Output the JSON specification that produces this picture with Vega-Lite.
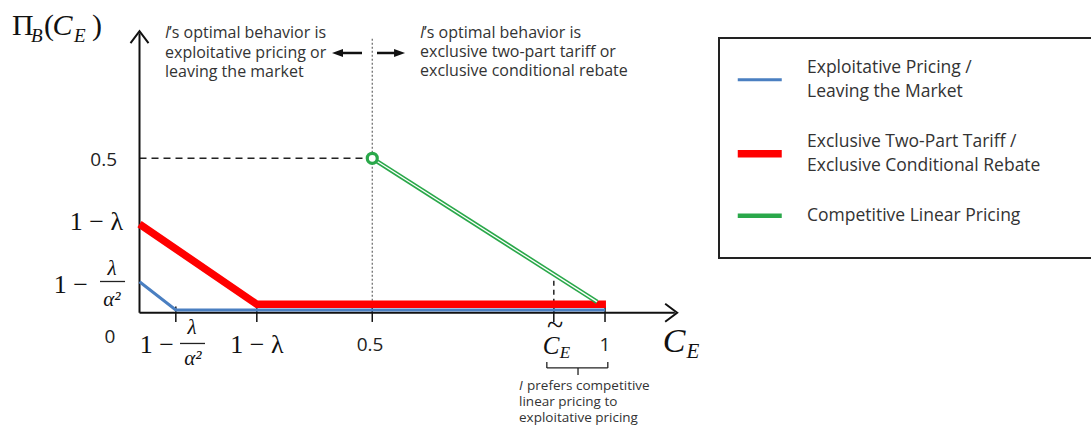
{
  "$schema": "https://vega.github.io/schema/vega-lite/v6.json",
  "width": 1091,
  "height": 432,
  "autosize": "none",
  "padding": 0,
  "background": "white",
  "config": {"view": {"stroke": null}},
  "datasets": {
    "lines": [
      {"s": "Exploitative Pricing / Leaving the Market", "x": 0, "y": 0.1},
      {"s": "Exploitative Pricing / Leaving the Market", "x": 0.078, "y": 0.009},
      {"s": "Exploitative Pricing / Leaving the Market", "x": 1.0, "y": 0.009},
      {"s": "Exclusive Two-Part Tariff / Exclusive Conditional Rebate", "x": 0, "y": 0.287},
      {"s": "Exclusive Two-Part Tariff / Exclusive Conditional Rebate", "x": 0.252, "y": 0.027},
      {"s": "Exclusive Two-Part Tariff / Exclusive Conditional Rebate", "x": 1.002, "y": 0.027},
      {"s": "Competitive Linear Pricing", "x": 0.5, "y": 0.5},
      {"s": "Competitive Linear Pricing", "x": 0.983, "y": 0.035}
    ],
    "guides": [
      {"g": "axis", "x": 0, "y": 0, "x2": 1.15, "y2": 0},
      {"g": "axis", "x": 0, "y": 0, "x2": 0, "y2": 0.905},
      {"g": "tick", "x": 0.078, "y": -0.03, "x2": 0.078, "y2": 0.02},
      {"g": "tick", "x": 0.252, "y": -0.03, "x2": 0.252, "y2": 0.02},
      {"g": "tick", "x": 0.5, "y": -0.03, "x2": 0.5, "y2": 0.02},
      {"g": "tick", "x": 0.89, "y": -0.03, "x2": 0.89, "y2": 0.02},
      {"g": "tick", "x": 1.0, "y": -0.03, "x2": 1.0, "y2": 0.02},
      {"g": "dash", "x": 0, "y": 0.5, "x2": 0.49, "y2": 0.5},
      {"g": "dash2", "x": 0.89, "y": 0.0, "x2": 0.89, "y2": 0.106},
      {"g": "dot", "x": 0.5, "y": 0, "x2": 0.5, "y2": 0.89},
      {"g": "thin", "x": -0.0849, "y": 0.101, "x2": -0.0311, "y2": 0.101},
      {"g": "thin", "x": 0.087, "y": -0.0997, "x2": 0.1407, "y2": -0.0997},
      {"g": "thin", "x": 0.875, "y": -0.179, "x2": 1.006, "y2": -0.179},
      {"g": "thin", "x": 0.875, "y": -0.16, "x2": 0.875, "y2": -0.179},
      {"g": "thin", "x": 1.006, "y": -0.16, "x2": 1.006, "y2": -0.179},
      {"g": "thin", "x": 0.942, "y": -0.179, "x2": 0.942, "y2": -0.202},
      {"g": "shaft", "x": 0.425, "y": 0.841, "x2": 0.478, "y2": 0.841},
      {"g": "shaft", "x": 0.5102, "y": 0.841, "x2": 0.558, "y2": 0.841}
    ],
    "heads": [
      {"h": "x", "x": 1.155, "y": 0},
      {"h": "y", "x": 0, "y": 0.912},
      {"h": "L", "x": 0.4135, "y": 0.841},
      {"h": "R", "x": 0.5704, "y": 0.841}
    ],
    "points": [
      {"x": 0.5, "y": 0.5}
    ],
    "texts": [
      {"r": "sym", "t": "Π", "x": -0.2739, "y": 0.8993},
      {"r": "sym", "t": "(", "x": -0.2051, "y": 0.8993},
      {"r": "sym", "t": ")", "x": -0.102, "y": 0.8993},
      {"r": "symi", "t": "C", "x": -0.1869, "y": 0.8993},
      {"r": "sub", "t": "B", "x": -0.2331, "y": 0.8766},
      {"r": "sub", "t": "E", "x": -0.1407, "y": 0.8766},
      {"r": "numR", "t": "0.5", "x": -0.0483, "y": 0.4945},
      {"r": "num", "t": "0", "x": -0.0634, "y": -0.0787},
      {"r": "num", "t": "0.5", "x": 0.4952, "y": -0.1046},
      {"r": "num", "t": "1", "x": 1.0, "y": -0.1046},
      {"r": "mathR", "t": "1 − λ", "x": -0.0354, "y": 0.2937},
      {"r": "mathR", "t": "1 −", "x": -0.1106, "y": 0.0897},
      {"r": "mathR", "t": "1 −", "x": 0.0741, "y": -0.1046},
      {"r": "mathC", "t": "1 − λ", "x": 0.2524, "y": -0.1046},
      {"r": "frac", "t": "λ", "x": -0.0591, "y": 0.1415},
      {"r": "frac", "t": "α²", "x": -0.0591, "y": 0.0411},
      {"r": "frac", "t": "λ", "x": 0.1128, "y": -0.0495},
      {"r": "frac", "t": "α²", "x": 0.1149, "y": -0.1499},
      {"r": "ci", "t": "C", "x": 0.884, "y": -0.1078},
      {"r": "cisub", "t": "E", "x": 0.914, "y": -0.1305},
      {"r": "tilde", "t": "~", "x": 0.8926, "y": -0.043},
      {"r": "big", "t": "C", "x": 1.1482, "y": -0.0949},
      {"r": "bigsub", "t": "E", "x": 1.189, "y": -0.1273},
      {"r": "anni", "t": "I", "x": 0.0548, "y": 0.9058},
      {"r": "anni", "t": "I", "x": 0.6026, "y": 0.9058},
      {"r": "ann", "t": "’s optimal behavior is", "x": 0.0634, "y": 0.9058},
      {"r": "ann", "t": "exploitative pricing or", "x": 0.0548, "y": 0.841},
      {"r": "ann", "t": "leaving the market", "x": 0.0548, "y": 0.7795},
      {"r": "ann", "t": "’s optimal behavior is", "x": 0.6112, "y": 0.9058},
      {"r": "ann", "t": "exclusive two-part tariff or", "x": 0.6026, "y": 0.8442},
      {"r": "ann", "t": "exclusive conditional rebate", "x": 0.6026, "y": 0.7827},
      {"r": "smalli", "t": "I", "x": 0.8153, "y": -0.2373},
      {"r": "small", "t": "prefers competitive", "x": 0.8325, "y": -0.2373},
      {"r": "small", "t": "linear pricing to", "x": 0.8153, "y": -0.2892},
      {"r": "small", "t": "exploitative pricing", "x": 0.8153, "y": -0.3411}
    ]
  },
  "encoding": {
    "x": {"field": "x", "type": "quantitative", "scale": {"domain": [-0.2997, 2.044], "nice": false, "zero": false}, "axis": null},
    "y": {"field": "y", "type": "quantitative", "scale": {"domain": [-0.3864, 1.0126], "nice": false, "zero": false}, "axis": null}
  },
  "layer": [
    {"data": {"name": "guides"}, "transform": [{"filter": "datum.g == 'dot'"}],
     "mark": {"type": "rule", "color": "#666", "strokeWidth": 1.2, "strokeDash": [2, 2]},
     "encoding": {"x2": {"field": "x2"}, "y2": {"field": "y2"}}},
    {"data": {"name": "guides"}, "transform": [{"filter": "datum.g == 'dash'"}],
     "mark": {"type": "rule", "color": "#222", "strokeWidth": 1.5, "strokeDash": [7, 5]},
     "encoding": {"x2": {"field": "x2"}, "y2": {"field": "y2"}}},
    {"data": {"name": "guides"}, "transform": [{"filter": "datum.g == 'dash2'"}],
     "mark": {"type": "rule", "color": "#222", "strokeWidth": 1.5, "strokeDash": [5, 4]},
     "encoding": {"x2": {"field": "x2"}, "y2": {"field": "y2"}}},
    {"data": {"name": "guides"}, "transform": [{"filter": "datum.g == 'axis'"}],
     "mark": {"type": "rule", "color": "#111", "strokeWidth": 2},
     "encoding": {"x2": {"field": "x2"}, "y2": {"field": "y2"}}},
    {"data": {"name": "guides"}, "transform": [{"filter": "datum.g == 'tick'"}],
     "mark": {"type": "rule", "color": "#111", "strokeWidth": 1.5},
     "encoding": {"x2": {"field": "x2"}, "y2": {"field": "y2"}}},
    {"data": {"name": "guides"}, "transform": [{"filter": "datum.g == 'thin'"}],
     "mark": {"type": "rule", "color": "#222", "strokeWidth": 1.3},
     "encoding": {"x2": {"field": "x2"}, "y2": {"field": "y2"}}},
    {"data": {"name": "guides"}, "transform": [{"filter": "datum.g == 'shaft'"}],
     "mark": {"type": "rule", "color": "#111", "strokeWidth": 2.5},
     "encoding": {"x2": {"field": "x2"}, "y2": {"field": "y2"}}},
    {"data": {"name": "heads"}, "transform": [{"filter": "datum.h == 'x'"}],
     "mark": {"type": "point", "shape": "M-1,-0.75L0,0L-1,0.75", "filled": false, "stroke": "#111", "strokeWidth": 2, "size": 576, "opacity": 1}},
    {"data": {"name": "heads"}, "transform": [{"filter": "datum.h == 'y'"}],
     "mark": {"type": "point", "shape": "M-1,-0.75L0,0L-1,0.75", "angle": 270, "filled": false, "stroke": "#111", "strokeWidth": 2, "size": 576, "opacity": 1}},
    {"data": {"name": "heads"}, "transform": [{"filter": "datum.h == 'L'"}],
     "mark": {"type": "point", "shape": "M0,0L1,-0.36L1,0.36Z", "filled": true, "fill": "#111", "size": 484, "opacity": 1}},
    {"data": {"name": "heads"}, "transform": [{"filter": "datum.h == 'R'"}],
     "mark": {"type": "point", "shape": "M0,0L-1,-0.36L-1,0.36Z", "filled": true, "fill": "#111", "size": 484, "opacity": 1}},
    {"data": {"name": "lines"}, "transform": [{"filter": "datum.s == 'Exploitative Pricing / Leaving the Market'"}],
     "mark": {"type": "line", "strokeCap": "butt", "strokeWidth": 3},
     "encoding": {
       "color": {"field": "s", "type": "nominal",
         "scale": {"domain": ["Exploitative Pricing / Leaving the Market", "Exclusive Two-Part Tariff / Exclusive Conditional Rebate", "Competitive Linear Pricing"], "range": ["#4a7fc1", "#ff0000", "#2aa84a"]},
         "legend": {"orient": "none", "legendX": 719, "legendY": 38, "title": null, "symbolType": "stroke", "symbolSize": 1936,
           "symbolOffset": -1, "labelOffset": 38.5, "labelFont": "Open Sans", "labelFontSize": 17.5, "labelColor": "#333", "labelLimit": 800,
           "rowPadding": 31, "padding": 33, "strokeColor": "#222",
           "labelExpr": "split(replace(datum.label, ' / ', ' /|') + '\u00a0\u00a0\u00a0\u00a0\u00a0\u00a0\u00a0\u00a0\u200b', '|')",
           "encode": {
             "labels": {"update": {"lineHeight": {"value": 24}, "dy": {"signal": "indexof(datum.value, ' / ') >= 0 ? -12 : 0"}}},
             "symbols": {"update": {"strokeWidth": {"signal": "datum.value == 'Exclusive Two-Part Tariff / Exclusive Conditional Rebate' ? 7.5 : datum.value == 'Competitive Linear Pricing' ? 4.5 : 3"}}},
             "legend": {"update": {"strokeWidth": {"value": 2}}}}}}
     }},
    {"data": {"name": "lines"}, "transform": [{"filter": "datum.s == 'Exclusive Two-Part Tariff / Exclusive Conditional Rebate'"}],
     "mark": {"type": "line", "strokeCap": "butt", "strokeWidth": 7.5},
     "encoding": {"color": {"field": "s", "type": "nominal"}}},
    {"data": {"name": "lines"}, "transform": [{"filter": "datum.s == 'Competitive Linear Pricing'"}],
     "mark": {"type": "line", "strokeCap": "butt", "strokeWidth": 4.5},
     "encoding": {"color": {"field": "s", "type": "nominal"}}},
    {"data": {"name": "lines"}, "transform": [{"filter": "datum.s == 'Competitive Linear Pricing'"}],
     "mark": {"type": "line", "strokeCap": "butt", "color": "white", "strokeWidth": 1.3}},
    {"data": {"name": "points"},
     "mark": {"type": "point", "shape": "circle", "filled": true, "fill": "white", "stroke": "#2aa84a", "strokeWidth": 3.2, "size": 100, "opacity": 1}},
    {"data": {"name": "texts"}, "transform": [{"filter": "datum.r == 'sym'"}],
     "mark": {"type": "text", "font": "Liberation Serif", "fontSize": 30, "align": "left", "baseline": "alphabetic", "color": "#111"},
     "encoding": {"text": {"field": "t"}}},
    {"data": {"name": "texts"}, "transform": [{"filter": "datum.r == 'symi'"}],
     "mark": {"type": "text", "font": "Liberation Serif", "fontSize": 30, "fontStyle": "italic", "align": "left", "baseline": "alphabetic", "color": "#111"},
     "encoding": {"text": {"field": "t"}}},
    {"data": {"name": "texts"}, "transform": [{"filter": "datum.r == 'sub'"}],
     "mark": {"type": "text", "font": "Liberation Serif", "fontSize": 19, "fontStyle": "italic", "align": "left", "baseline": "alphabetic", "color": "#111"},
     "encoding": {"text": {"field": "t"}}},
    {"data": {"name": "texts"}, "transform": [{"filter": "datum.r == 'numR'"}],
     "mark": {"type": "text", "font": "Open Sans", "fontSize": 19, "align": "right", "baseline": "middle", "color": "#222"},
     "encoding": {"text": {"field": "t"}}},
    {"data": {"name": "texts"}, "transform": [{"filter": "datum.r == 'num'"}],
     "mark": {"type": "text", "font": "Open Sans", "fontSize": 19, "align": "center", "baseline": "middle", "color": "#222"},
     "encoding": {"text": {"field": "t"}}},
    {"data": {"name": "texts"}, "transform": [{"filter": "datum.r == 'mathR'"}],
     "mark": {"type": "text", "font": "Liberation Serif", "fontSize": 26, "align": "right", "baseline": "middle", "color": "#111"},
     "encoding": {"text": {"field": "t"}}},
    {"data": {"name": "texts"}, "transform": [{"filter": "datum.r == 'mathC'"}],
     "mark": {"type": "text", "font": "Liberation Serif", "fontSize": 26, "align": "center", "baseline": "middle", "color": "#111"},
     "encoding": {"text": {"field": "t"}}},
    {"data": {"name": "texts"}, "transform": [{"filter": "datum.r == 'frac'"}],
     "mark": {"type": "text", "font": "Liberation Serif", "fontSize": 21, "fontStyle": "italic", "align": "center", "baseline": "middle", "color": "#111"},
     "encoding": {"text": {"field": "t"}}},
    {"data": {"name": "texts"}, "transform": [{"filter": "datum.r == 'ci'"}],
     "mark": {"type": "text", "font": "Liberation Serif", "fontSize": 25, "fontStyle": "italic", "align": "center", "baseline": "middle", "color": "#111"},
     "encoding": {"text": {"field": "t"}}},
    {"data": {"name": "texts"}, "transform": [{"filter": "datum.r == 'cisub'"}],
     "mark": {"type": "text", "font": "Liberation Serif", "fontSize": 17, "fontStyle": "italic", "align": "center", "baseline": "middle", "color": "#111"},
     "encoding": {"text": {"field": "t"}}},
    {"data": {"name": "texts"}, "transform": [{"filter": "datum.r == 'tilde'"}],
     "mark": {"type": "text", "font": "Liberation Serif", "fontSize": 30, "align": "center", "baseline": "middle", "color": "#111"},
     "encoding": {"text": {"field": "t"}}},
    {"data": {"name": "texts"}, "transform": [{"filter": "datum.r == 'big'"}],
     "mark": {"type": "text", "font": "Liberation Serif", "fontSize": 34, "fontStyle": "italic", "align": "center", "baseline": "middle", "color": "#111"},
     "encoding": {"text": {"field": "t"}}},
    {"data": {"name": "texts"}, "transform": [{"filter": "datum.r == 'bigsub'"}],
     "mark": {"type": "text", "font": "Liberation Serif", "fontSize": 21, "fontStyle": "italic", "align": "center", "baseline": "middle", "color": "#111"},
     "encoding": {"text": {"field": "t"}}},
    {"data": {"name": "texts"}, "transform": [{"filter": "datum.r == 'anni'"}],
     "mark": {"type": "text", "font": "Open Sans", "fontSize": 16, "fontStyle": "italic", "align": "left", "baseline": "middle", "color": "#333"},
     "encoding": {"text": {"field": "t"}}},
    {"data": {"name": "texts"}, "transform": [{"filter": "datum.r == 'ann'"}],
     "mark": {"type": "text", "font": "Open Sans", "fontSize": 16, "align": "left", "baseline": "middle", "color": "#333"},
     "encoding": {"text": {"field": "t"}}},
    {"data": {"name": "texts"}, "transform": [{"filter": "datum.r == 'smalli'"}],
     "mark": {"type": "text", "font": "Open Sans", "fontSize": 13.5, "fontStyle": "italic", "align": "left", "baseline": "middle", "color": "#333"},
     "encoding": {"text": {"field": "t"}}},
    {"data": {"name": "texts"}, "transform": [{"filter": "datum.r == 'small'"}],
     "mark": {"type": "text", "font": "Open Sans", "fontSize": 13.5, "align": "left", "baseline": "middle", "color": "#333"},
     "encoding": {"text": {"field": "t"}}}
  ]
}
